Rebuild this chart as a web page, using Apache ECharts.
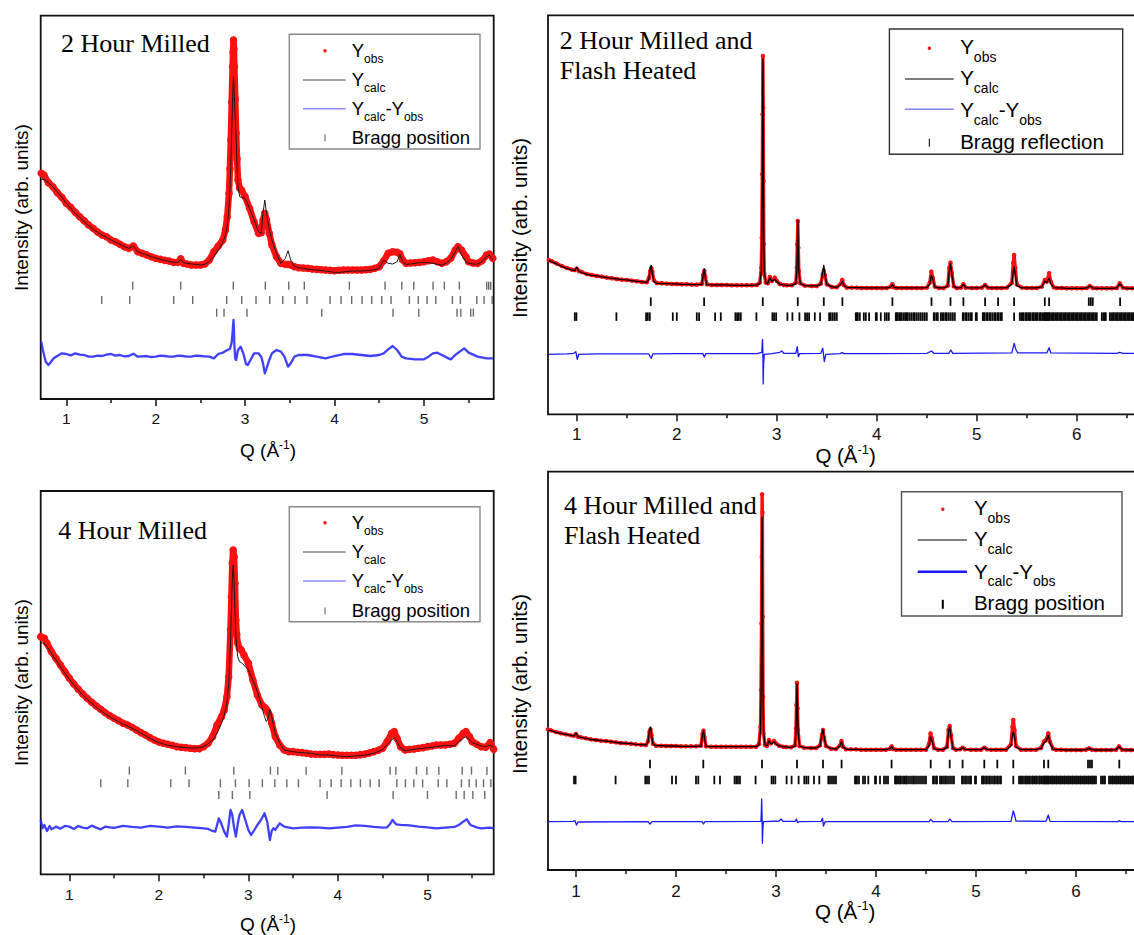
<!DOCTYPE html>
<html>
<head>
<meta charset="utf-8">
<script src="https://cdn.jsdelivr.net/npm/echarts@6/dist/echarts.min.js"></script>
<style>
  html, body { margin: 0; padding: 0; background: #fff; }
  #chart { width: 1134px; height: 935px; }
</style>
</head>
<body>
<div id="chart"></div>
<script>
// ---------- 2 Hour Milled ----------
const q1 = [0.72,0.75,0.8,0.85,0.9,0.95,1,1.05,1.1,1.15,1.2,1.25,1.3,1.35,1.4,1.45,1.5,1.55,1.6,1.65,1.7,1.75,1.8,1.85,1.9,1.95,2,2.05,2.1,2.15,2.2,2.25,2.28,2.31,2.35,2.4,2.45,2.5,2.55,2.6,2.65,2.7,2.75,2.78,2.8,2.82,2.83,2.84,2.85,2.86,2.865,2.87,2.875,2.88,2.89,2.9,2.91,2.92,2.94,2.96,3,3.05,3.1,3.15,3.18,3.2,3.22,3.24,3.27,3.3,3.35,3.4,3.45,3.48,3.51,3.55,3.6,3.65,3.7,3.75,3.8,3.85,3.9,3.95,4,4.05,4.1,4.15,4.2,4.25,4.3,4.35,4.4,4.45,4.5,4.55,4.6,4.65,4.7,4.73,4.76,4.8,4.85,4.9,4.95,5,5.05,5.1,5.15,5.2,5.25,5.3,5.35,5.38,5.42,5.47,5.5,5.55,5.6,5.65,5.7,5.73,5.77];
const obs1 = [677,672,649,637,619,605,587,575,560,547,535,522,512,501,492,487,477,472,464,457,452,459,442,437,432,427,422,419,416,414,410,410,421,407,405,402,402,402,405,417,442,459,477,507,547,617,690,777,890,997,1040,1077,1050,997,900,797,720,657,632,627,607,572,532,497,499,537,557,537,497,462,427,407,404,404,402,397,394,393,392,390,389,388,387,386,385,386,387,387,387,387,387,388,389,392,397,415,437,442,440,436,418,407,408,409,410,412,415,417,412,407,412,422,447,457,447,427,412,408,407,415,432,435,422];
const calc1 = [659,659,649,637,622,605,587,572,557,545,532,520,509,500,492,485,477,470,464,457,452,459,442,437,432,427,423,419,416,413,410,410,419,409,407,405,404,402,404,412,427,447,469,492,517,577,630,697,800,897,940,967,945,907,840,777,700,637,607,605,602,572,537,502,497,557,597,557,507,477,437,407,422,445,417,399,394,392,389,388,387,386,384,382,380,380,381,383,384,384,384,385,386,388,392,417,407,405,412,434,412,404,405,407,409,410,409,407,404,402,408,419,442,457,432,412,407,405,405,412,427,432,417];
const qDiff1 = [0.72,0.74,0.77,0.8,0.83,0.86,0.9,0.95,1,1.05,1.1,1.15,1.2,1.25,1.3,1.35,1.4,1.45,1.5,1.55,1.6,1.65,1.7,1.75,1.8,1.85,1.9,1.95,2,2.05,2.1,2.15,2.2,2.25,2.3,2.35,2.4,2.45,2.5,2.55,2.6,2.65,2.7,2.75,2.8,2.83,2.85,2.86,2.87,2.875,2.88,2.89,2.9,2.92,2.95,2.98,3.01,3.03,3.06,3.1,3.15,3.18,3.2,3.22,3.24,3.27,3.3,3.35,3.4,3.44,3.48,3.51,3.55,3.6,3.7,3.8,3.9,4,4.1,4.2,4.3,4.4,4.5,4.55,4.6,4.65,4.7,4.75,4.8,4.9,5,5.05,5.1,5.15,5.2,5.25,5.3,5.35,5.4,5.45,5.5,5.6,5.7,5.77];
const diff1 = [172,145,112,102,112,122,129,137,135,131,137,133,132,127,127,130,129,133,135,130,132,128,129,136,127,128,129,126,127,130,129,127,127,130,129,127,127,130,129,128,127,122,135,139,147,150,170,200,237,210,160,120,117,147,157,137,105,102,117,137,137,127,107,77,92,117,137,147,142,127,97,107,127,132,132,127,122,129,135,135,132,129,132,137,149,159,147,127,122,119,119,127,137,139,132,125,119,132,142,152,139,127,122,122];
const bragg1A = [1.743,2.280,2.868,3.226,3.488,3.662,4.166,4.565,4.752,4.886,5.102,5.228,5.396,5.702,5.724,5.747];
const bragg1B = [1.396,1.709,2.201,2.414,2.794,2.962,3.122,3.275,3.421,3.558,3.692,3.950,4.073,4.192,4.308,4.416,4.528,4.632,4.837,4.937,5.035,5.132,5.318,5.407,5.591,5.672,5.762];
const bragg1C = [2.682,2.764,3.021,3.857,4.654,4.942,5.370,5.412,5.523,5.553];

// ---------- 4 Hour Milled ----------
const q3 = [0.68,0.72,0.75,0.8,0.85,0.9,0.95,1,1.05,1.1,1.15,1.2,1.25,1.3,1.35,1.4,1.45,1.5,1.55,1.6,1.65,1.7,1.75,1.8,1.85,1.9,1.95,2,2.05,2.1,2.15,2.2,2.25,2.3,2.35,2.4,2.45,2.5,2.55,2.6,2.65,2.7,2.73,2.76,2.78,2.8,2.81,2.82,2.83,2.84,2.85,2.86,2.87,2.88,2.9,2.92,2.95,3,3.05,3.1,3.15,3.18,3.2,3.22,3.24,3.26,3.3,3.35,3.4,3.45,3.5,3.55,3.6,3.65,3.7,3.75,3.8,3.85,3.9,3.95,4,4.05,4.1,4.15,4.2,4.25,4.3,4.35,4.4,4.45,4.5,4.55,4.6,4.63,4.66,4.7,4.75,4.8,4.85,4.9,4.95,5,5.05,5.1,5.15,5.2,5.25,5.3,5.35,5.4,5.43,5.47,5.5,5.55,5.6,5.65,5.7,5.74];
const obs3 = [713,708,693,668,648,628,608,588,571,555,541,528,516,505,495,485,476,468,461,453,448,441,433,425,418,410,403,397,393,390,387,383,381,380,378,377,377,383,393,413,448,473,493,533,593,733,833,933,973,953,873,763,720,693,678,673,658,633,583,538,508,501,495,485,475,453,413,388,373,368,368,366,365,363,361,360,360,360,361,359,358,357,357,357,357,359,361,364,368,372,378,398,423,428,408,383,373,375,376,378,380,383,385,388,388,388,390,393,408,423,428,413,398,390,383,381,395,375];
const calc3 = [695,693,683,663,643,623,603,585,568,553,538,525,513,501,491,481,473,465,458,450,445,438,431,423,416,408,401,395,391,387,385,383,381,380,379,379,380,383,391,403,423,453,478,513,573,693,793,883,928,883,793,713,680,653,638,635,628,613,583,548,503,473,458,468,495,473,423,393,373,370,368,366,365,364,363,360,358,358,358,356,355,354,353,354,355,356,357,360,363,368,375,388,403,410,398,378,371,373,375,377,378,380,381,383,385,387,386,385,398,408,413,403,395,390,385,383,388,381];
const qDiff3 = [0.68,0.7,0.72,0.75,0.78,0.8,0.85,0.9,0.95,1,1.05,1.1,1.15,1.2,1.25,1.3,1.35,1.4,1.45,1.5,1.6,1.7,1.8,1.9,2,2.1,2.2,2.3,2.4,2.5,2.55,2.6,2.63,2.67,2.7,2.73,2.76,2.78,2.8,2.82,2.84,2.86,2.88,2.9,2.93,2.96,3,3.03,3.06,3.1,3.14,3.18,3.21,3.24,3.26,3.28,3.3,3.35,3.4,3.5,3.6,3.7,3.8,3.9,4,4.1,4.2,4.3,4.4,4.5,4.55,4.58,4.61,4.65,4.7,4.8,4.9,5,5.1,5.2,5.3,5.35,5.4,5.44,5.48,5.55,5.6,5.7,5.74];
const diff3 = [163,138,148,130,145,135,143,137,145,143,136,145,140,138,146,140,135,143,141,139,145,142,140,145,143,140,144,142,140,138,136,130,128,168,150,128,113,150,193,178,140,113,150,178,193,168,133,118,130,148,163,183,158,103,130,138,133,153,143,138,140,141,140,138,140,142,147,145,142,140,141,150,163,150,148,147,143,141,138,140,142,148,158,165,148,141,138,140,138];
const bragg3A = [1.670,2.296,2.837,3.246,3.328,3.645,4.044,4.583,4.647,4.877,4.993,5.127,5.388,5.492,5.664];
const bragg3B = [1.351,1.653,2.133,2.337,2.687,2.855,3.008,3.156,3.295,3.429,3.559,3.801,3.924,4.036,4.144,4.251,4.360,4.460,4.658,4.754,4.848,4.946,5.120,5.217,5.380,5.466,5.544,5.626,5.708];
const bragg3C = [2.669,2.821,3.016,3.879,4.617,5.000,5.321,5.410,5.507,5.640];

// ---------- Flash heated samples (shared Q grid) ----------
const qFlash = [0.72,0.75,0.8,0.85,0.9,0.95,0.98,1,1.02,1.05,1.1,1.15,1.2,1.25,1.3,1.35,1.4,1.45,1.5,1.55,1.6,1.65,1.7,1.72,1.735,1.745,1.755,1.77,1.8,1.85,1.9,1.95,2,2.05,2.1,2.15,2.2,2.25,2.265,2.275,2.285,2.3,2.35,2.4,2.45,2.5,2.55,2.6,2.65,2.7,2.75,2.8,2.83,2.845,2.85,2.855,2.858,2.861,2.864,2.867,2.87,2.875,2.89,2.91,2.93,2.95,2.98,3,3.03,3.07,3.1,3.15,3.19,3.2,3.205,3.21,3.215,3.22,3.235,3.28,3.35,3.4,3.44,3.46,3.47,3.48,3.5,3.55,3.6,3.64,3.655,3.67,3.7,3.75,3.8,3.85,3.9,3.95,4,4.05,4.1,4.14,4.156,4.17,4.2,4.25,4.3,4.35,4.4,4.45,4.5,4.53,4.545,4.56,4.58,4.62,4.67,4.71,4.725,4.737,4.75,4.77,4.8,4.84,4.866,4.89,4.95,5,5.05,5.083,5.11,5.15,5.2,5.25,5.3,5.35,5.365,5.373,5.385,5.4,5.45,5.5,5.55,5.6,5.65,5.68,5.7,5.723,5.74,5.77,5.8,5.85,5.9,5.95,6,6.05,6.1,6.13,6.16,6.2,6.25,6.3,6.35,6.4,6.43,6.46,6.5,6.55,6.6,6.65,6.7,6.75];
// 2 Hour Milled and Flash Heated
const obs2 = [463,459,452,445,439,434,433,437,430,427,421,418,415,413,410,408,406,404,403,401,399,397,396,408,430,438,428,402,394,393,392,391,391,390,390,389,389,391,418,430,412,390,388,388,388,388,387,387,387,387,387,388,395,440,530,720,900,1075,920,700,510,420,395,393,412,400,410,400,391,388,387,387,395,440,510,580,500,430,393,386,385,385,392,420,430,418,390,382,381,392,403,388,380,380,380,379,379,379,379,379,379,383,390,381,379,379,379,379,379,379,380,395,428,410,383,379,379,386,440,455,425,384,379,380,390,380,379,379,380,388,380,379,379,379,380,395,455,478,440,390,380,379,379,379,383,403,398,423,398,381,379,379,378,378,378,378,379,385,379,378,378,378,378,379,393,380,378,378,378,378,378,378];
const calc2 = [461,457,451,444,438,433,431,441,429,425,420,417,415,412,410,408,406,404,403,401,399,397,396,405,440,448,425,398,393,392,392,391,391,390,390,389,389,390,420,438,410,389,388,388,388,388,387,387,387,387,387,388,392,430,520,700,880,1068,900,700,520,430,395,392,410,398,405,398,390,388,387,387,392,430,500,583,500,430,392,386,385,385,390,430,448,420,390,382,381,390,400,388,380,380,380,379,379,379,379,379,379,382,390,381,379,379,379,379,379,379,380,390,418,405,382,379,379,385,430,453,420,383,379,380,390,380,379,379,380,388,380,379,379,379,380,390,430,443,420,386,379,379,379,379,382,400,395,408,392,380,379,379,378,378,378,378,379,385,379,378,378,378,378,379,392,380,378,378,378,378,378,378];
const qDiff2 = [0.72,0.9,0.97,0.99,1.005,1.02,1.2,1.5,1.72,1.735,1.745,1.76,2,2.26,2.275,2.29,2.5,2.8,2.85,2.857,2.861,2.864,2.868,2.875,2.95,3.03,3.05,3.07,3.19,3.205,3.215,3.23,3.44,3.46,3.475,3.49,3.63,3.655,3.67,4,4.5,4.547,4.57,4.72,4.74,4.76,5.35,5.373,5.39,5.41,5.7,5.723,5.74,6.4,6.43,6.46,6.75];
const diff2 = [180,181,183,188,165,180,181,181,181,172,168,181,182,182,172,182,182,182,186,225,185,91,150,180,182,186,190,183,183,203,173,182,183,198,158,180,182,185,182,182,183,190,183,183,193,183,184,213,195,184,184,200,184,183,186,183,183];
// 4 Hour Milled and Flash Heated
const obs4 = [422,419,414,410,407,404,403,408,400,398,395,392,390,388,387,385,383,381,380,379,377,376,375,386,415,422,405,379,373,373,372,372,372,371,371,371,371,373,408,418,398,371,370,370,370,370,370,370,370,370,370,370,378,430,540,740,940,1127,1073,760,520,410,375,372,390,380,387,380,373,370,369,368,374,425,495,562,485,420,372,367,366,366,374,405,420,398,372,364,363,374,387,370,362,362,362,361,361,361,361,361,361,364,371,363,361,361,361,361,361,361,361,378,410,395,366,361,361,370,420,432,405,366,361,362,367,362,361,361,361,367,362,361,361,361,361,378,430,450,420,372,361,361,361,361,366,386,390,410,385,364,361,361,360,360,360,360,361,365,361,360,360,360,360,361,371,361,360,360,360,360,360,360];
const calc4 = [420,418,413,410,407,404,402,410,400,398,395,392,390,388,387,385,383,381,380,379,377,376,375,384,420,430,405,378,373,373,372,372,372,371,371,371,371,372,405,420,395,371,370,370,370,370,370,370,370,370,370,370,375,420,520,700,880,1060,900,700,520,420,375,372,388,378,385,378,372,370,369,368,372,420,490,560,490,420,372,367,366,366,372,410,422,400,372,364,363,372,385,370,362,362,362,361,361,361,361,361,361,364,370,363,361,361,361,361,361,361,361,372,400,388,364,361,361,368,415,430,400,365,361,362,367,362,361,361,361,367,362,361,361,361,361,372,405,415,400,368,361,361,361,361,365,382,385,405,380,363,361,361,360,360,360,360,361,365,361,360,360,360,360,361,370,361,360,360,360,360,360,360];
const qDiff4 = [0.72,0.97,0.99,1.005,1.02,1.72,1.74,1.76,2.26,2.275,2.29,2.85,2.857,2.861,2.864,2.868,2.875,3.03,3.05,3.07,3.19,3.205,3.215,3.23,3.45,3.465,3.475,3.49,4.53,4.547,4.57,4.72,4.737,4.76,5.35,5.373,5.385,5.4,5.7,5.723,5.74,6.42,6.43,6.45,6.75];
const diff4 = [145,146,148,135,144,145,138,145,145,138,145,146,213,160,80,120,145,147,153,146,146,153,142,145,146,155,132,145,145,152,145,145,153,145,146,177,165,147,146,165,146,145,148,145,145];
// Bragg reflections of the two phases (same for both flash heated samples)
const braggFlashA = [1.74,2.273,2.86,3.21,3.47,3.656,4.156,4.547,4.737,4.866,5.083,5.213,5.373,5.68,5.723,6.12,6.14,6.16,6.433];
const braggFlashB = [0.98,0.996,1.396,1.693,1.71,1.73,1.96,2.0,2.2,2.223,2.383,2.44,2.586,2.603,2.62,2.64,2.796,2.956,2.973,2.993,3.106,3.156,3.226,3.283,3.303,3.323,3.38,3.433,3.523,3.54,3.56,3.58,3.6,3.79,3.8,3.81,3.83,3.87,3.89,3.923,3.99,4.0,4.04,4.08,4.1,4.12,4.19,4.2,4.21,4.225,4.24,4.25,4.27,4.285,4.3,4.31,4.33,4.35,4.37,4.38,4.4,4.42,4.44,4.46,4.48,4.5,4.57,4.58,4.6,4.61,4.64,4.655,4.67,4.69,4.7,4.72,4.74,4.76,4.78,4.86,4.87,4.89,4.9,4.92,4.94,4.95,4.99,5.0,5.06,5.07,5.08,5.1,5.11,5.13,5.14,5.16,5.18,5.19,5.21,5.22,5.24,5.25,5.373,5.43,5.445,5.46,5.47,5.49,5.5,5.515,5.53,5.54,5.56,5.57,5.585,5.6,5.61,5.63,5.64,5.655,5.67,5.68,5.69,5.7,5.71,5.72,5.73,5.745,5.76,5.77,5.785,5.8,5.81,5.825,5.84,5.85,5.865,5.88,5.89,5.905,5.92,5.93,5.945,5.96,5.97,5.985,6.0,6.01,6.025,6.04,6.05,6.065,6.08,6.09,6.105,6.12,6.13,6.145,6.16,6.17,6.185,6.2,6.25,6.265,6.28,6.29,6.33,6.345,6.36,6.37,6.385,6.4,6.41,6.425,6.44,6.45,6.465,6.48,6.49,6.505,6.52,6.53,6.545,6.56,6.57,6.585,6.6];

// Axis tick values
const ticksMilled = [1, 2, 3, 4, 5];
const minorMilled = [1.5, 2.5, 3.5, 4.5, 5.5];
const ticksFlash = [1, 2, 3, 4, 5, 6];
const minorFlash = [1.5, 2.5, 3.5, 4.5, 5.5, 6.5];

const SANS = '"Liberation Sans", Arial, Helvetica, sans-serif';
const SERIF = '"Liberation Serif", "Times New Roman", serif';
const RED = '#ff1010';

const pairs = (xs, ys) => xs.map((x, i) => [x, ys[i]]);

// ---------- panel layout ----------
const panels = [
  { title: ['2 Hour Milled'], titleX: 61, titleBase: [52.3],
    rect: { left: 40.7, top: 15.7, width: 453, height: 383.3 }, xMin: 0.714, xMax: 5.78, yMax: 1150,
    major: ticksMilled, minor: minorMilled, labelSize: 15.5, labelMargin: 11.5,
    q: q1, obs: obs1, calc: calc1, qd: qDiff1, diff: diff1, flash: false,
    bragg: [[bragg1A, 340], [bragg1B, 297], [bragg1C, 259]], braggColor: '#6a6a6a', braggW: 1.4, braggH: 8,
    yLabel: { x: 21.7, y: 207.5, fs: 19 }, qLabel: { x: 240, base: 457.3, fs: 19 },
    legend: { x: 289.3, y: 34.3, w: 190.7, h: 114.7, border: '#8a8a8a', symX: 325, lx0: 303, lx1: 345.7, textX: 351.7,
      base: [57.3, 85.7, 115, 144], subDy: 6.3, dotY: 50.7, calcY: 80, diffY: 108.7, tickY: 137.7,
      fs: 18.5, sfs: 12, calcColor: '#444', calcW: 1, diffColor: '#8c8cff', diffW: 1.6, tickColor: '#777', tickW: 1.3, tickH: 7, bragg: 'Bragg position' } },
  { title: ['2 Hour Milled and', 'Flash Heated'], titleX: 559.8, titleBase: [50, 79.3],
    rect: { left: 548, top: 15.3, width: 603.8, height: 399 }, xMin: 0.712, xMax: 6.75, yMax: 1197,
    major: ticksFlash, minor: minorFlash, labelSize: 17, labelMargin: 12,
    q: qFlash, obs: obs2, calc: calc2, qd: qDiff2, diff: diff2, flash: true,
    bragg: [[braggFlashA, 338], [braggFlashB, 293]], braggColor: '#0a0a0a', braggW: 1.8, braggH: 8.5,
    yLabel: { x: 519.4, y: 228, fs: 20.5 }, qLabel: { x: 815.4, base: 463, fs: 20.5 },
    legend: { x: 889.4, y: 29, w: 233.3, h: 125.3, border: '#333', symX: 929.4, lx0: 905, lx1: 953.7, textX: 960.2,
      base: [53.3, 85, 116.7, 149], subDy: 8.3, dotY: 48.3, calcY: 79, diffY: 109.3, tickY: 142.7,
      fs: 20.5, sfs: 14, calcColor: '#000', calcW: 1.1, diffColor: '#7f7fff', diffW: 1.6, tickColor: '#222', tickW: 1.2, tickH: 8, bragg: 'Bragg reflection' } },
  { title: ['4 Hour Milled'], titleX: 58.3, titleBase: [539.3],
    rect: { left: 40.7, top: 491, width: 453, height: 383.3 }, xMin: 0.68, xMax: 5.74, yMax: 1150,
    major: ticksMilled, minor: minorMilled, labelSize: 15.5, labelMargin: 12,
    q: q3, obs: obs3, calc: calc3, qd: qDiff3, diff: diff3, flash: false,
    bragg: [[bragg3A, 311], [bragg3B, 273], [bragg3C, 238]], braggColor: '#6a6a6a', braggW: 1.4, braggH: 8,
    yLabel: { x: 21.7, y: 682.5, fs: 19 }, qLabel: { x: 240, base: 930.7, fs: 19 },
    legend: { x: 289.3, y: 506.7, w: 190.7, h: 115, border: '#8a8a8a', symX: 325, lx0: 303, lx1: 345.7, textX: 351.7,
      base: [529.3, 558.3, 587.3, 616.7], subDy: 6.3, dotY: 522.7, calcY: 552, diffY: 581, tickY: 611,
      fs: 18.5, sfs: 12, calcColor: '#444', calcW: 1, diffColor: '#8c8cff', diffW: 1.6, tickColor: '#777', tickW: 1.3, tickH: 7, bragg: 'Bragg position' } },
  { title: ['4 Hour Milled and', 'Flash Heated'], titleX: 563.9, titleBase: [515, 545],
    rect: { left: 548, top: 471.7, width: 603.8, height: 398.3 }, xMin: 0.72, xMax: 6.758, yMax: 1195,
    major: ticksFlash, minor: minorFlash, labelSize: 17, labelMargin: 13,
    q: qFlash, obs: obs4, calc: calc4, qd: qDiff4, diff: diff4, flash: true,
    bragg: [[braggFlashA, 318], [braggFlashB, 270]], braggColor: '#0a0a0a', braggW: 1.8, braggH: 8.5,
    yLabel: { x: 519.4, y: 684, fs: 20.5 }, qLabel: { x: 815, base: 918.3, fs: 20.5 },
    legend: { x: 901.5, y: 491.7, w: 220.5, h: 124.3, border: '#555', symX: 942.8, lx0: 917.7, lx1: 967, textX: 973.9,
      base: [515, 546, 578.3, 610], subDy: 7.7, dotY: 509.3, calcY: 540, diffY: 571.7, tickY: 604.3,
      fs: 20.5, sfs: 14, calcColor: '#000', calcW: 1.2, diffColor: '#1a1aff', diffW: 2.6, tickColor: '#000', tickW: 2, tickH: 9, bragg: 'Bragg position' } }
];

// ---------- text helpers ----------
const measureCtx = document.createElement('canvas').getContext('2d');
function textWidth(str, size, family) {
  measureCtx.font = size + 'px ' + (family || SANS);
  return measureCtx.measureText(str).width;
}
// place text by its alphabetic baseline
function textEl(x, base, str, size, family, color) {
  return {
    type: 'text', x: x, y: base - 0.35 * size, silent: true, z: 100,
    style: { text: str, fill: color || '#000', fontSize: size, fontFamily: family || SANS,
      textAlign: 'left', textVerticalAlign: 'middle', align: 'left', verticalAlign: 'middle' }
  };
}
// run of pieces, each [text, shift] where shift moves the piece down (sub) or up (sup)
function runEls(x, base, parts, fs, sfs) {
  const out = [];
  let cx = x;
  parts.forEach(([s, shift]) => {
    const size = shift === 0 ? fs : sfs;
    out.push(textEl(cx, base + shift, s, size));
    cx += textWidth(s, size);
  });
  return out;
}

function legendEls(L) {
  const els = [];
  els.push({ type: 'rect', silent: true, z: 90, shape: { x: L.x, y: L.y, width: L.w, height: L.h },
    style: { fill: '#fff', stroke: L.border, lineWidth: 1.4 } });
  els.push({ type: 'circle', silent: true, z: 100, shape: { cx: L.symX, cy: L.dotY, r: 1.7 }, style: { fill: RED } });
  els.push(...runEls(L.textX, L.base[0], [['Y', 0], ['obs', L.subDy]], L.fs, L.sfs));
  els.push({ type: 'line', silent: true, z: 100, shape: { x1: L.lx0, y1: L.calcY, x2: L.lx1, y2: L.calcY },
    style: { stroke: L.calcColor, lineWidth: L.calcW } });
  els.push(...runEls(L.textX, L.base[1], [['Y', 0], ['calc', L.subDy]], L.fs, L.sfs));
  els.push({ type: 'line', silent: true, z: 100, shape: { x1: L.lx0, y1: L.diffY, x2: L.lx1, y2: L.diffY },
    style: { stroke: L.diffColor, lineWidth: L.diffW } });
  els.push(...runEls(L.textX, L.base[2], [['Y', 0], ['calc', L.subDy], ['-Y', 0], ['obs', L.subDy]], L.fs, L.sfs));
  els.push({ type: 'rect', silent: true, z: 100,
    shape: { x: L.symX - L.tickW / 2, y: L.tickY - L.tickH / 2, width: L.tickW, height: L.tickH }, style: { fill: L.tickColor } });
  els.push(textEl(L.textX, L.base[3], L.bragg, L.fs));
  return els;
}

// ---------- build the option ----------
const grids = [], xAxes = [], yAxes = [], series = [], graphics = [];

panels.forEach((p, i) => {
  grids.push({ left: p.rect.left, top: p.rect.top, width: p.rect.width, height: p.rect.height,
    show: true, borderColor: '#111', borderWidth: 1.8, backgroundColor: 'transparent',
    containLabel: false, outerBoundsMode: 'none' });

  xAxes.push({ type: 'value', gridIndex: i, min: p.xMin, max: p.xMax, position: 'bottom',
    axisLine: { show: false }, splitLine: { show: false },
    axisTick: { show: true, customValues: p.major, length: 7, lineStyle: { color: '#111', width: 1.5 } },
    axisLabel: { show: true, customValues: p.major, margin: p.labelMargin, fontSize: p.labelSize,
      fontFamily: SANS, color: '#111' } });
  xAxes.push({ type: 'value', gridIndex: i, min: p.xMin, max: p.xMax, position: 'bottom',
    axisLine: { show: false }, splitLine: { show: false }, axisLabel: { show: false },
    axisTick: { show: true, customValues: p.minor, length: 4, lineStyle: { color: '#111', width: 1.5 } } });

  yAxes.push({ type: 'value', gridIndex: i, min: 0, max: p.yMax, show: false });

  const xi = 2 * i;
  // Bragg reflection markers
  p.bragg.forEach(([positions, level]) => {
    series.push({ type: 'scatter', xAxisIndex: xi, yAxisIndex: i, silent: true, z: 2,
      symbol: 'rect', symbolSize: [p.braggW, p.braggH],
      itemStyle: { color: p.braggColor, opacity: 1 },
      data: positions.map(q => [q, level]) });
  });
  // difference curve
  series.push({ type: 'line', xAxisIndex: xi, yAxisIndex: i, silent: true, z: 3, showSymbol: false,
    lineStyle: { color: p.flash ? '#1a1aff' : '#2626ff', width: p.flash ? 1.3 : 2.3, opacity: p.flash ? 1 : 0.88, join: 'round' },
    data: pairs(p.qd, p.diff) });
  // observed
  if (p.flash) {
    series.push({ type: 'line', xAxisIndex: xi, yAxisIndex: i, silent: true, z: 4,
      showSymbol: true, showAllSymbol: true, symbol: 'circle', symbolSize: 4.5,
      itemStyle: { color: RED }, lineStyle: { color: RED, width: 3.4, join: 'round', cap: 'round' },
      data: pairs(p.q, p.obs) });
  } else {
    series.push({ type: 'line', xAxisIndex: xi, yAxisIndex: i, silent: true, z: 4,
      showSymbol: true, showAllSymbol: true, symbol: 'circle', symbolSize: 7.5,
      itemStyle: { color: RED }, lineStyle: { color: RED, width: 6.5, join: 'round', cap: 'round' },
      data: pairs(p.q, p.obs) });
  }
  // calculated
  series.push({ type: 'line', xAxisIndex: xi, yAxisIndex: i, silent: true, z: 5, showSymbol: false,
    lineStyle: { color: p.flash ? '#000' : '#1a1a1a', width: p.flash ? 1.3 : 1 },
    data: pairs(p.q, p.calc) });

  // titles
  p.title.forEach((t, k) => graphics.push(textEl(p.titleX, p.titleBase[k], t, 26, SERIF)));
  // y axis title
  graphics.push({ type: 'text', x: p.yLabel.x, y: p.yLabel.y, rotation: Math.PI / 2, silent: true, z: 100,
    style: { text: 'Intensity (arb. units)', fill: '#000', fontSize: p.yLabel.fs, fontFamily: SANS,
      textAlign: 'center', textVerticalAlign: 'middle', align: 'center', verticalAlign: 'middle' } });
  // x axis title  Q (Å⁻¹)
  const ql = p.qLabel;
  graphics.push(...runEls(ql.x, ql.base, [['Q (\u00C5', 0], ['-1', -0.42 * ql.fs], [')', 0]], ql.fs, ql.fs * 0.63));
  // legend
  graphics.push(...legendEls(p.legend));
});

const chart = echarts.init(document.getElementById('chart'), null, { renderer: 'svg' });
chart.setOption({
  animation: false,
  backgroundColor: '#fff',
  grid: grids,
  xAxis: xAxes,
  yAxis: yAxes,
  series: series,
  graphic: { elements: graphics }
});
</script>
</body>
</html>
